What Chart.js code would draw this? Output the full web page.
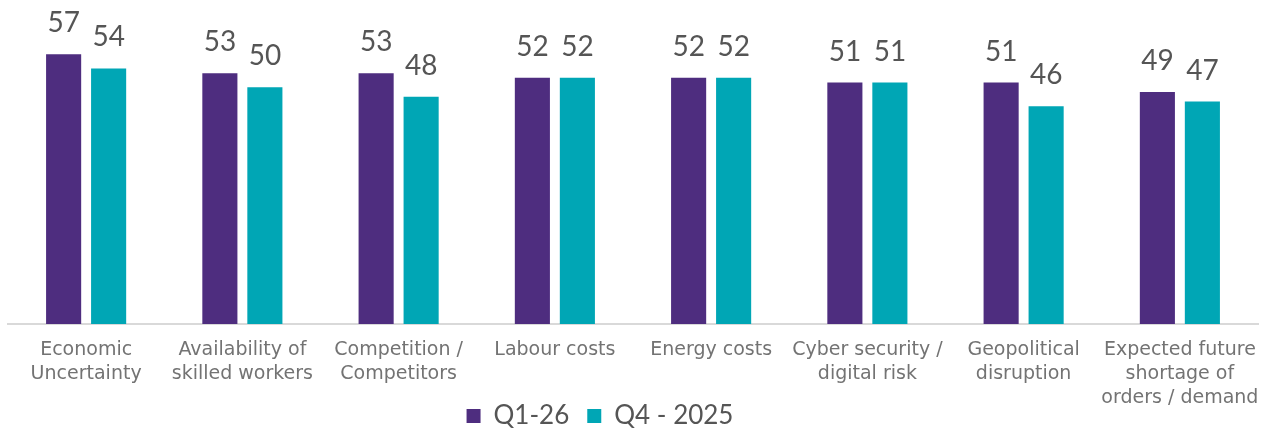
<!DOCTYPE html>
<html>
<head>
<meta charset="utf-8">
<script src="https://cdn.jsdelivr.net/npm/chart.js@4"></script>
<style>
  html, body { margin: 0; padding: 0; background: #fff; }
  #wrap { width: 1268px; height: 429px; }
</style>
</head>
<body>
<div id="wrap"><canvas id="chart" width="1268" height="429"></canvas></div>
<script>
// chart data
const categories = [
  ["Economic", "Uncertainty"],
  ["Availability of", "skilled workers"],
  ["Competition /", "Competitors"],
  ["Labour costs"],
  ["Energy costs"],
  ["Cyber security /", "digital risk"],
  ["Geopolitical", "disruption"],
  ["Expected future", "shortage of", "orders / demand"]
];
const q1_26 = [57, 53, 53, 52, 52, 51, 51, 49];
const q4_2025 = [54, 50, 48, 52, 52, 51, 46, 47];
const seriesNames = ["Q1-26", "Q4 - 2025"];

const PURPLE = "#4e2d7f";
const TEAL = "#00a6b5";
const FONT = "Lato, 'Noto Sans', sans-serif";
const TICK_FONT = "'DejaVu Sans', sans-serif";

// values above bars
const barLabels = {
  id: "barLabels",
  afterDatasetsDraw(chart) {
    const ctx = chart.ctx;
    ctx.save();
    ctx.font = "28px " + FONT;
    ctx.fillStyle = "#555555";
    ctx.textAlign = "center";
    ctx.textBaseline = "alphabetic";
    chart.data.datasets.forEach((ds, i) => {
      chart.getDatasetMeta(i).data.forEach((bar, j) => {
        ctx.fillText(ds.data[j], bar.x, bar.y - 22);
      });
    });
    ctx.restore();
  }
};

// legend sits beside the 3rd line of the last label, move it up and left
const legendMove = {
  id: "legendMove",
  afterLayout(chart) {
    const lg = chart.legend;
    const h = lg.bottom - lg.top;
    lg.top = 385;
    lg.bottom = 385 + h;
    lg.left -= 33;
    lg.right -= 33;
  }
};

const ctx = document.getElementById("chart").getContext("2d");
new Chart(ctx, {
  type: "bar",
  data: {
    labels: categories,
    datasets: [
      { label: seriesNames[0], data: q1_26, backgroundColor: PURPLE },
      { label: seriesNames[1], data: q4_2025, backgroundColor: TEAL }
    ]
  },
  options: {
    responsive: false,
    animation: false,
    categoryPercentage: 0.576,
    barPercentage: 0.78,
    layout: { padding: { top: 40, left: 8, right: 10, bottom: -44 } },
    plugins: {
      tooltip: { enabled: false },
      legend: {
        position: "bottom",
        labels: {
          boxWidth: 14,
          boxHeight: 14,
          padding: 18,
          color: "#555555",
          font: { family: FONT, size: 26 }
        }
      }
    },
    scales: {
      y: { display: false, min: 0, max: 60 },
      x: {
        grid: { display: false, drawTicks: false },
        border: { color: "#d9d9d9", width: 2 },
        ticks: {
          color: "#737373",
          padding: 14,
          maxRotation: 0,
          autoSkip: false,
          font: { family: TICK_FONT, size: 19, lineHeight: 1.26 }
        },
        afterFit(scale) {
          scale.height = 95;
          scale.paddingLeft = 0;
          scale.paddingRight = 0;
        }
      }
    }
  },
  plugins: [barLabels, legendMove]
});
</script>
</body>
</html>
